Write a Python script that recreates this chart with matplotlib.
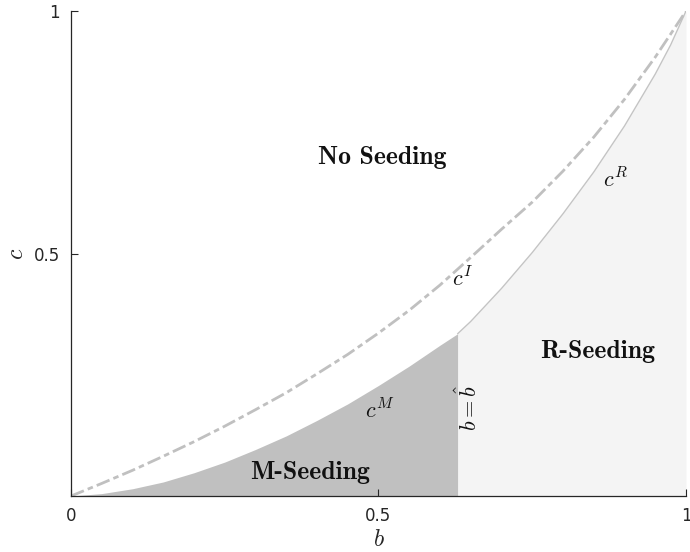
import matplotlib.pyplot as plt
import numpy as np

plt.rcParams['mathtext.fontset'] = 'cm'

# threshold curves c(b)
b_I = [0, 0.05, 0.1, 0.15, 0.2, 0.25, 0.3, 0.35, 0.4, 0.45, 0.5,
       0.55, 0.6, 0.65, 0.7, 0.75, 0.8, 0.85, 0.9, 0.95, 1.0]
c_I = [0, 0.026, 0.053, 0.082, 0.112, 0.144, 0.178, 0.213, 0.252, 0.292, 0.336,
       0.383, 0.435, 0.492, 0.550, 0.606, 0.670, 0.740, 0.818, 0.905, 1.0]

b_M = [0, 0.05, 0.1, 0.15, 0.2, 0.25, 0.3, 0.35, 0.4, 0.45, 0.5, 0.55, 0.6, 0.629]
c_M = [0, 0.005, 0.015, 0.029, 0.048, 0.070, 0.096, 0.124, 0.156, 0.190, 0.228, 0.268, 0.311, 0.335]

b_R = [0.629, 0.65, 0.7, 0.75, 0.8, 0.85, 0.9, 0.95, 0.975, 1.0]
c_R = [0.335, 0.360, 0.428, 0.502, 0.582, 0.668, 0.763, 0.870, 0.930, 1.0]

b_hat = 0.629

fig = plt.figure(figsize=(6.9, 5.52), dpi=100)
ax = fig.add_axes([0.1029, 0.1014, 0.8913, 0.8786])

# regions
ax.fill_between(b_M, 0, c_M, color='#c0c0c0', lw=0)
ax.fill_between(b_R, 0, c_R, color='#f4f4f4', lw=0)

# boundaries
ax.plot(b_R, c_R, color='#c4c4c4', lw=1.0)
ax.plot(b_I, c_I, color='#c0c0c0', lw=2.0, dashes=(5, 1.5, 2, 1.5))

# region names in computer modern bold
bold = dict(ha='center', va='center', fontsize=18.5, color='#111111', family='cmb10')
ax.text(0.506, 0.697, 'No Seeding', **bold)
ax.text(0.857, 0.297, 'R-Seeding', **bold)
ax.text(0.389, 0.049, 'M-Seeding', **bold)

mth = dict(ha='center', va='center', fontsize=16, color='#111111')
ax.text(0.636, 0.449, r'$c^I$', **mth)
ax.text(0.502, 0.177, r'$c^M$', **mth)
ax.text(0.885, 0.652, r'$c^R$', **mth)
ax.text(0.645, 0.181, r'$b=\hat{b}$', rotation=90, **mth)

ax.set_xlim(0, 1)
ax.set_ylim(0, 1)
ax.set_xticks([0, 0.5, 1])
ax.set_xticklabels(['0', '0.5', '1'])
ax.set_yticks([0.5, 1])
ax.set_yticklabels(['0.5', '1'])
ax.tick_params(direction='in', length=5, width=0.8, colors='#262626',
               labelsize=12, pad=8)
for side in ['top', 'right']:
    ax.spines[side].set_visible(False)
for side in ['left', 'bottom']:
    ax.spines[side].set_color('#262626')
    ax.spines[side].set_linewidth(0.9)

ax.set_xlabel(r'$b$', fontsize=17, color='#262626', labelpad=1)
ax.set_ylabel(r'$c$', fontsize=17, color='#262626', labelpad=4)

fig.savefig('out.png', dpi=100)
